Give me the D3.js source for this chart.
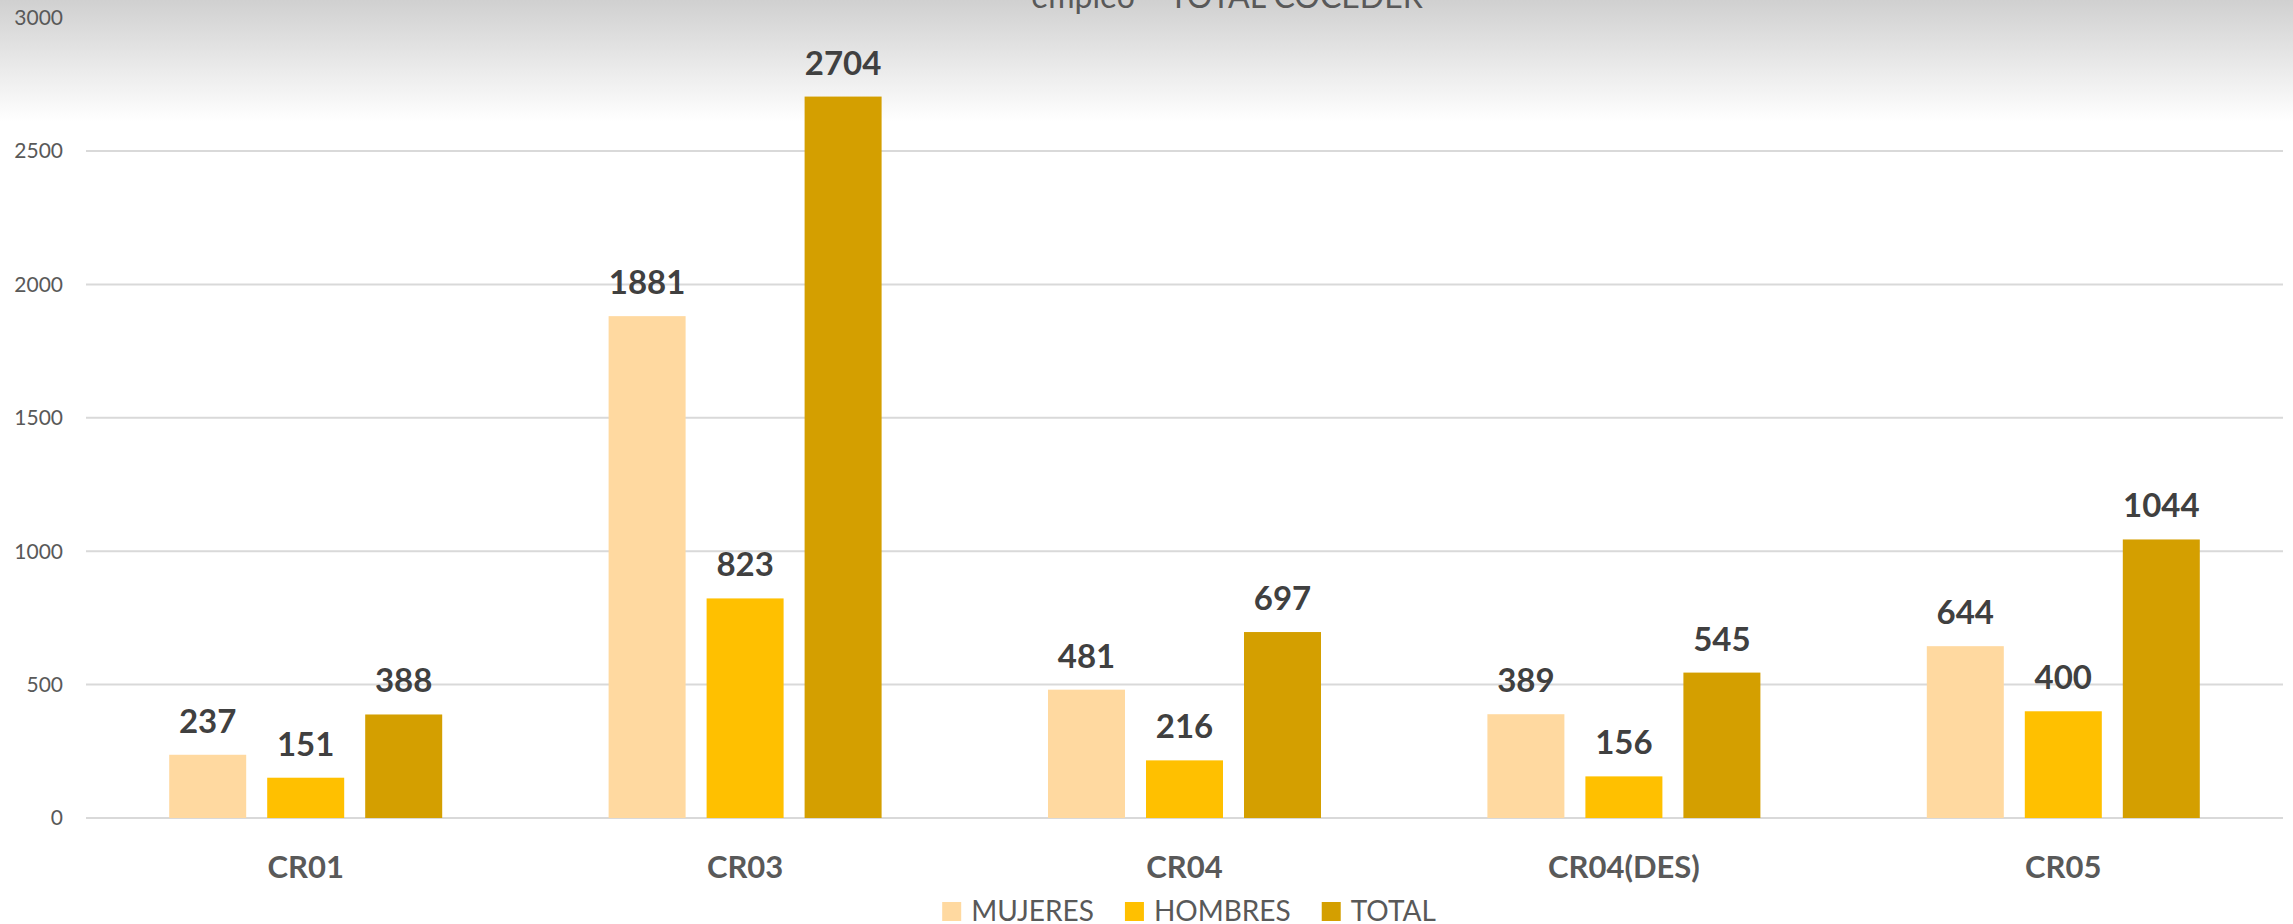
<!DOCTYPE html>
<html>
<head>
<meta charset="utf-8">
<script src="https://cdn.jsdelivr.net/npm/d3@7"></script>
<style>
  html, body { margin: 0; padding: 0; background: #fff; }
  svg { display: block; font-family: "Lato", "Open Sans", sans-serif; }
</style>
</head>
<body>
<div id="chart"></div>
<script>
// ---------------------------
// DATA
// ---------------------------
const categories = ["CR01", "CR03", "CR04", "CR04(DES)", "CR05"];
const seriesNames = ["MUJERES", "HOMBRES", "TOTAL"];
const mujeres = [237, 1881, 481, 389, 644];
const hombres = [151, 823, 216, 156, 400];
const total = [388, 2704, 697, 545, 1044];
const yTicks = [0, 500, 1000, 1500, 2000, 2500, 3000];
const seriesColors = ["#FFD9A0", "#FFC000", "#D49F00"];

const values = { MUJERES: mujeres, HOMBRES: hombres, TOTAL: total };

// ---------------------------
// LAYOUT
// ---------------------------
const width = 2293, height = 924;
const plot = { left: 86, right: 2283, top: 17.6, bottom: 818 };

const svg = d3.select("#chart").append("svg")
  .attr("width", width)
  .attr("height", height);

// gray-to-white background fade at the top
const defs = svg.append("defs");
const grad = defs.append("linearGradient")
  .attr("id", "bg-fade")
  .attr("x1", "0%").attr("y1", "0%")
  .attr("x2", "0%").attr("y2", "100%");
grad.append("stop").attr("offset", "0%").attr("stop-color", "#d0d0d0");
grad.append("stop").attr("offset", "100%").attr("stop-color", "#ffffff");

svg.append("rect").attr("width", width).attr("height", height).attr("fill", "#fff");
svg.append("rect").attr("width", width).attr("height", 122).attr("fill", "url(#bg-fade)");

// ---------------------------
// SCALES
// ---------------------------
const y = d3.scaleLinear().domain([0, 3000]).range([plot.bottom, plot.top]);

const x0 = d3.scaleBand()
  .domain(categories)
  .range([plot.left, plot.right])
  .padding(0);

const x1 = d3.scaleBand()
  .domain(seriesNames)
  .range([0, x0.bandwidth()])
  .paddingInner(0.2143)
  .paddingOuter(0.849);

const color = d3.scaleOrdinal().domain(seriesNames).range(seriesColors);

// ---------------------------
// GRIDLINES + Y AXIS LABELS
// ---------------------------
svg.append("g")
  .selectAll("line")
  .data(yTicks.filter(d => d < 3000))
  .join("line")
  .attr("x1", plot.left)
  .attr("x2", plot.right)
  .attr("y1", d => y(d))
  .attr("y2", d => y(d))
  .attr("stroke", "#d9d9d9")
  .attr("stroke-width", 2);

svg.append("g")
  .selectAll("text")
  .data(yTicks)
  .join("text")
  .attr("x", 63)
  .attr("y", d => y(d))
  .attr("dy", "0.35em")
  .attr("text-anchor", "end")
  .attr("fill", "#595959")
  .style("font-size", "21px")
  .text(d => d);

// ---------------------------
// BARS + DATA LABELS
// ---------------------------
const groups = svg.append("g")
  .selectAll("g")
  .data(categories)
  .join("g")
  .attr("transform", d => `translate(${x0(d)},0)`);

const cells = groups.selectAll("g")
  .data((c, i) => seriesNames.map(s => ({ series: s, value: values[s][i] })))
  .join("g");

cells.append("rect")
  .attr("x", d => x1(d.series))
  .attr("y", d => y(d.value))
  .attr("width", x1.bandwidth())
  .attr("height", d => y(0) - y(d.value))
  .attr("fill", d => color(d.series));

cells.append("text")
  .attr("x", d => x1(d.series) + x1.bandwidth() / 2)
  .attr("y", d => y(d.value) - 22)
  .attr("text-anchor", "middle")
  .attr("fill", "#404040")
  .style("font-size", "33px")
  .style("font-weight", "bold")
  .text(d => d.value);

// ---------------------------
// CATEGORY LABELS
// ---------------------------
svg.append("g")
  .selectAll("text")
  .data(categories)
  .join("text")
  .attr("x", d => x0(d) + x0.bandwidth() / 2)
  .attr("y", 878)
  .attr("text-anchor", "middle")
  .attr("fill", "#595959")
  .style("font-size", "31px")
  .style("font-weight", "bold")
  .text(d => d);

// ---------------------------
// TITLE (sits against the top edge, as in the original)
// ---------------------------
svg.append("text")
  .attr("x", 1227)
  .attr("y", 8)
  .attr("text-anchor", "middle")
  .attr("fill", "#595959")
  .style("font-size", "32px")
  .text("empleo – TOTAL COCEDER");

// ---------------------------
// LEGEND (laid out from measured text widths, centred)
// ---------------------------
const legendCenter = 1189;
const swatch = 19, swatchGap = 10, itemGap = 31;

const legend = svg.append("g");
const items = legend.selectAll("g")
  .data(seriesNames)
  .join("g");

items.append("rect")
  .attr("y", 902)
  .attr("width", swatch)
  .attr("height", swatch)
  .attr("fill", d => color(d));

items.append("text")
  .attr("x", swatch + swatchGap)
  .attr("y", 921)
  .attr("fill", "#595959")
  .style("font-size", "28px")
  .text(d => d);

const widths = [];
items.each(function () {
  const w = swatch + swatchGap + d3.select(this).select("text").node().getComputedTextLength();
  widths.push(w);
});
const legendWidth = d3.sum(widths) + itemGap * (widths.length - 1);
let cursor = legendCenter - legendWidth / 2;
items.attr("transform", (d, i) => {
  const tx = cursor;
  cursor += widths[i] + itemGap;
  return `translate(${tx},0)`;
});
</script>
</body>
</html>
